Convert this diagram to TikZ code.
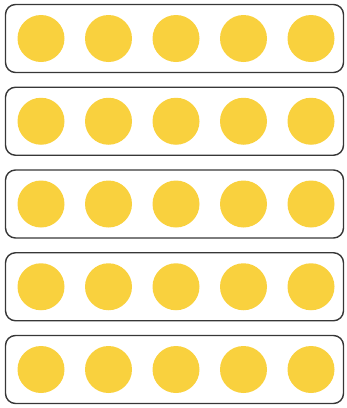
\documentclass[tikz,border=0pt]{standalone}
\usepackage{tikz}
\usetikzlibrary{positioning,calc}
\definecolor{DotYellow}{RGB}{249,209,62}
\definecolor{FrameGray}{RGB}{55,55,55}
\tikzset{
  frame/.style={rectangle,draw=FrameGray,line width=1.4pt,rounded corners=10pt,
    minimum width=338pt,minimum height=68pt,inner sep=0pt},
  dot/.style={circle,fill=DotYellow,inner sep=0pt,minimum size=47pt},
}

\begin{document}
\begin{tikzpicture}[x=1pt,y=-1pt]
\useasboundingbox (0,0) rectangle (347,408);
\foreach \r in {1,...,5}{
  \node[frame] (row\r) at (174.5,{38.5+(\r-1)*82.75}) {};
  \foreach \i in {1,...,5}{
    \node[dot] (d\r\i) at ({41+(\i-1)*67.5},{38.5+(\r-1)*82.75}) {};
  }
}
\end{tikzpicture}
\end{document}
